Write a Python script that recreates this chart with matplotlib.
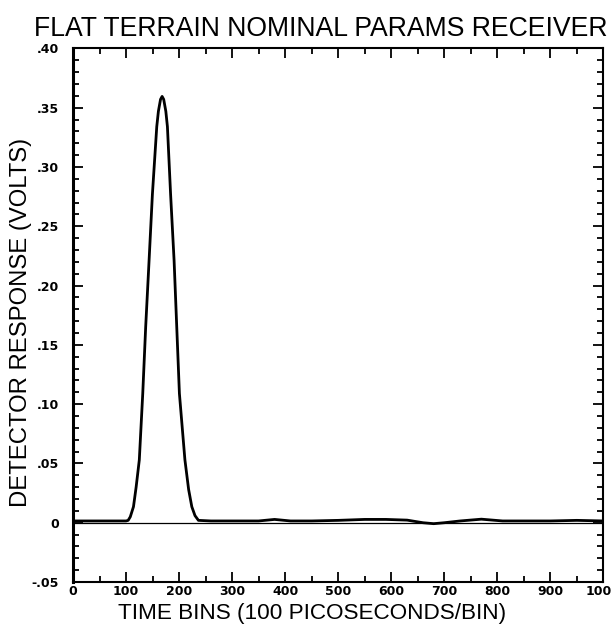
import matplotlib
matplotlib.use("Agg")
from matplotlib import pyplot as plt
from matplotlib.ticker import MultipleLocator, FuncFormatter
import numpy as np

# receiver output, time bin vs detector volts
time_bins = [0, 40, 80, 100, 104, 108, 114, 119, 125, 131.5, 137, 143.4, 149.7, 157.9,
             161, 165, 168, 171, 175, 178, 184, 190.6, 195.6, 200.6, 211, 218, 224,
             230, 236.5, 260, 300, 350, 380, 410, 450, 500, 550, 590, 630, 660, 680,
             700, 730, 770, 810, 850, 900, 950, 1000]
response = [0.0015, 0.0015, 0.0015, 0.0015, 0.002, 0.005, 0.0135, 0.03, 0.053, 0.109,
            0.165, 0.221, 0.277, 0.334, 0.347, 0.357, 0.3595, 0.357, 0.347, 0.334,
            0.277, 0.221, 0.165, 0.109, 0.053, 0.028, 0.0135, 0.006, 0.002, 0.0015,
            0.0015, 0.0015, 0.0028, 0.0015, 0.0015, 0.002, 0.0028, 0.0028, 0.0022,
            0.0, -0.0008, 0.0, 0.0015, 0.003, 0.0015, 0.0015, 0.0015, 0.002, 0.0015]

x_ticks = [0, 100, 200, 300, 400, 500, 600, 700, 800, 900, 1000]


def volt_label(v, pos):
    if abs(v) < 1e-9:
        return "0"
    s = "%.2f" % v
    return s.replace("0.", ".", 1)


fig = plt.figure(figsize=(6.11, 6.41), dpi=100)
ax = fig.add_axes([0.1195, 0.092, 0.868, 0.8325])

ax.axhline(0, color="black", linewidth=0.9)
ax.plot(time_bins, response, color="black", linewidth=2.0, solid_joinstyle="round")

ax.set_xlim(0, 1000)
ax.set_ylim(-0.05, 0.40)
ax.set_xticks(x_ticks)
ax.xaxis.set_minor_locator(MultipleLocator(50))
ax.yaxis.set_major_locator(MultipleLocator(0.05))
ax.yaxis.set_minor_locator(MultipleLocator(0.01))
ax.yaxis.set_major_formatter(FuncFormatter(volt_label))

ax.tick_params(which="both", direction="in", top=True, right=True, width=1.3)
ax.tick_params(which="major", length=7)
ax.tick_params(which="minor", length=4)
ax.tick_params(axis="x", which="major", pad=2)
ax.tick_params(axis="y", which="major", pad=10)
for lab in ax.get_xticklabels() + ax.get_yticklabels():
    lab.set_fontfamily(["Liberation Sans Narrow", "DejaVu Sans"])
    lab.set_fontweight("bold")
    lab.set_fontsize(9)

for sp in ax.spines.values():
    sp.set_linewidth(1.5)
ax.spines["left"].set_linewidth(2.2)

ax.set_title("FLAT TERRAIN NOMINAL PARAMS RECEIVER", fontfamily="Liberation Sans",
             fontsize=19.2, pad=9, x=0.467)
ax.set_xlabel("TIME BINS (100 PICOSECONDS/BIN)", fontfamily="Liberation Sans",
              fontsize=16.2, labelpad=4, x=0.45)
ax.set_ylabel("DETECTOR RESPONSE (VOLTS)", fontfamily="Liberation Sans",
              fontsize=17.2, labelpad=0, y=0.486)

fig.savefig("out.png", dpi=100)
